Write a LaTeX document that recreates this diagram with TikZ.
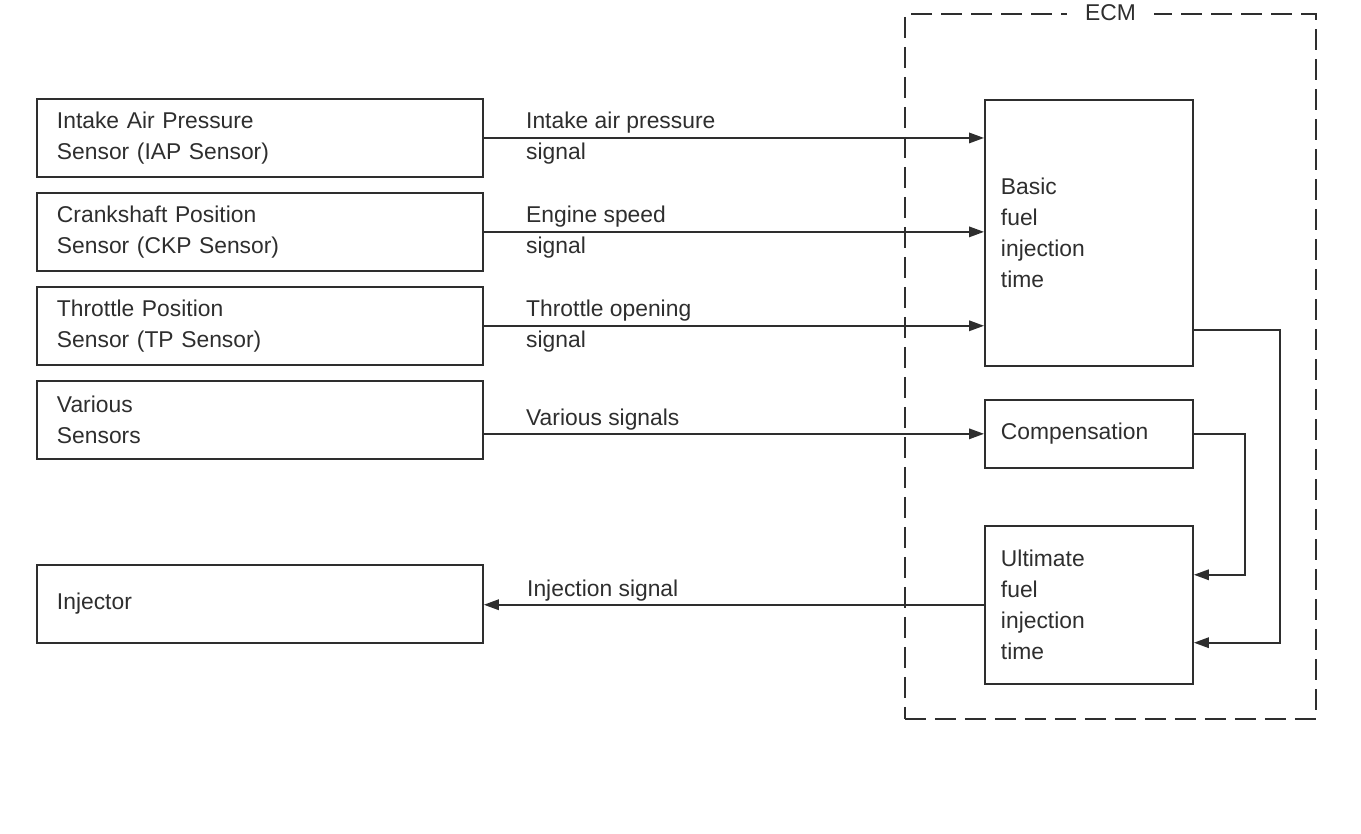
\documentclass[tikz,border=0pt]{standalone}
\usepackage{fontspec}
\setmainfont{Liberation Sans}
\usepackage{xcolor}
\usepackage{tikz}
\usetikzlibrary{arrows.meta,positioning}
\definecolor{ink}{HTML}{2E2E2E}

\begin{document}
\begin{tikzpicture}[
      x=0.02cm, y=-0.02cm,
      font=\fontsize{13}{17.6}\selectfont,
      node distance=0.28cm,
      sensor/.style={draw=ink, line width=1.1pt, text=ink, align=left,
                     minimum width=8.92cm, minimum height=1.56cm,
                     text width=8.12cm, inner xsep=0.4cm},
      ecmbox/.style={sensor, minimum width=4.16cm, text width=3.52cm,
                     inner xsep=0.32cm},
      sig/.style={text=ink, align=left, inner sep=0pt},
      arr/.style={-{Triangle[length=0.3cm, width=0.21cm]}, draw=ink,
                  line width=1pt}
    ]
    \useasboundingbox (0,0) rectangle (1361,834);

    % ECM frame
    \node[draw=ink, line width=1.1pt, dash pattern=on 0.42cm off 0.18cm,
          anchor=north west, minimum width=8.22cm, minimum height=14.1cm]
          (ecm) at (904,13) {};
    \node[fill=white, text=ink, inner xsep=0.36cm, inner ysep=1pt]
          (ecmlbl) at (ecm.north) {ECM};

    \node[sensor, anchor=north west] (iap) at (36,98)
          {Intake Air Pressure\\Sensor (IAP Sensor)};
    \node[sensor, below=of iap] (ckp)
          {Crankshaft Position\\Sensor (CKP Sensor)};
    \node[sensor, below=of ckp] (tps)
          {Throttle Position\\Sensor (TP Sensor)};
    \node[sensor, below=of tps] (var) {Various\\Sensors};
    \node[sensor, anchor=north west] (inj) at (36,564) {Injector};

    \node[ecmbox, anchor=north west, minimum height=5.32cm] (basic)
          at (984,99) {Basic\\fuel\\injection\\time};
    \node[ecmbox, below=0.64cm of basic, minimum height=1.36cm] (comp)
          {Compensation};
    \node[ecmbox, below=1.12cm of comp, minimum height=3.16cm] (ult)
          {Ultimate\\fuel\\injection\\time};

    \foreach \s in {iap, ckp, tps}
      \draw[arr] (\s.east) -- (\s.east -| basic.west);
    \draw[arr] (var.east |- comp.west) -- (comp.west);
    \draw[arr] (comp.east) -- ++(51,0) |- ([yshift=-1cm]ult.north east);
    \draw[arr] ([yshift=0.74cm]basic.south east) -- ++(86,0)
               |- ([yshift=0.84cm]ult.south east);
    \draw[arr] (ult.west) -- (ult.west -| inj.east);

    \node[sig, anchor=west] (lbliap) at ([xshift=0.84cm]iap.east)
          {Intake air pressure\\signal};
    \node[sig, anchor=west] (lblckp) at ([xshift=0.84cm]ckp.east)
          {Engine speed\\signal};
    \node[sig, anchor=west] (lbltps) at ([xshift=0.84cm]tps.east)
          {Throttle opening\\signal};
    \node[sig, anchor=base west] (lblvar)
          at ([xshift=0.84cm, yshift=0.16cm]var.east |- comp.west)
          {Various signals};
    \node[sig, anchor=base west] (lblinj)
          at ([xshift=0.86cm, yshift=0.16cm]inj.east |- ult.west)
          {Injection signal};
  \end{tikzpicture}
\end{document}
